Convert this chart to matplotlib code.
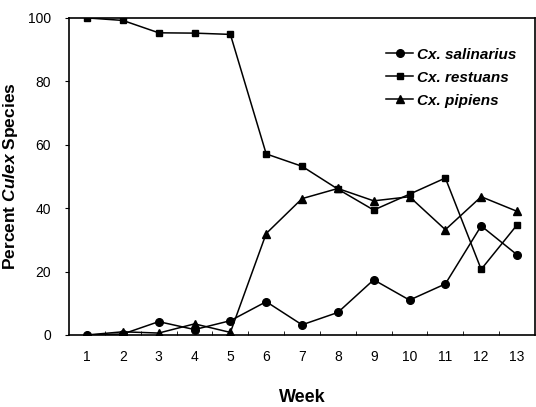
import matplotlib
matplotlib.use('Agg')
import matplotlib.pyplot as plt
import numpy as np

plt.rcParams['font.family'] = ['Liberation Sans', 'DejaVu Sans']
plt.rcParams['mathtext.fontset'] = 'custom'
plt.rcParams['mathtext.it'] = 'Liberation Sans:italic:bold'
plt.rcParams['mathtext.rm'] = 'Liberation Sans:bold'

weeks = list(range(1, 14))
salinarius = [0, 0.3, 4.2, 1.7, 4.5, 10.5, 3.2, 7.1, 17.4, 11.0, 16.1, 34.4, 25.3]
restuans = [100, 99.2, 95.3, 95.2, 94.8, 57.1, 53.2, 46.0, 39.4, 44.4, 49.5, 20.7, 34.7]
pipiens = [0, 1.0, 0.6, 3.5, 0.8, 32.0, 43.0, 46.2, 42.3, 43.6, 33.2, 43.6, 39.0]
labels = ['Cx. salinarius', 'Cx. restuans', 'Cx. pipiens']

fig = plt.figure(figsize=(5.36, 4.07), dpi=100)
ax = fig.add_axes([0.129, 0.177, 0.869, 0.779])

ax.plot(weeks, salinarius, color='black', lw=1.1, marker='o', ms=5.5, label=labels[0])
ax.plot(weeks, restuans, color='black', lw=1.1, marker='s', ms=5, label=labels[1])
ax.plot(weeks, pipiens, color='black', lw=1.1, marker='^', ms=5.5, label=labels[2])

ax.set_xlim(0.5, 13.5)
ax.set_ylim(0, 100)
ax.set_xticks(weeks)
ax.set_xticks(np.arange(1.5, 13.5, 1), minor=True)
ax.set_yticks([0, 20, 40, 60, 80, 100])
ax.tick_params(axis='x', which='major', length=0, pad=11, labelsize=10)
ax.tick_params(axis='x', which='minor', length=3, direction='in')
ax.tick_params(axis='y', length=3, labelsize=10, pad=10)
for s in ax.spines.values():
    s.set_linewidth(1.2)

ax.set_xlabel('Week', fontsize=13, fontweight='bold', va='top')
ax.xaxis.set_label_coords(0.5, -0.17)
ax.set_ylabel(r'Percent $\mathit{Culex}$ Species', fontsize=12.5, fontweight='bold', labelpad=6)

leg = ax.legend(loc='upper right', bbox_to_anchor=(0.99, 0.95), frameon=False,
                handlelength=1.8, handletextpad=0.25, labelspacing=0.6,
                prop={'style': 'italic', 'weight': 'bold', 'size': 11})

fig.savefig('out.png', dpi=100)
